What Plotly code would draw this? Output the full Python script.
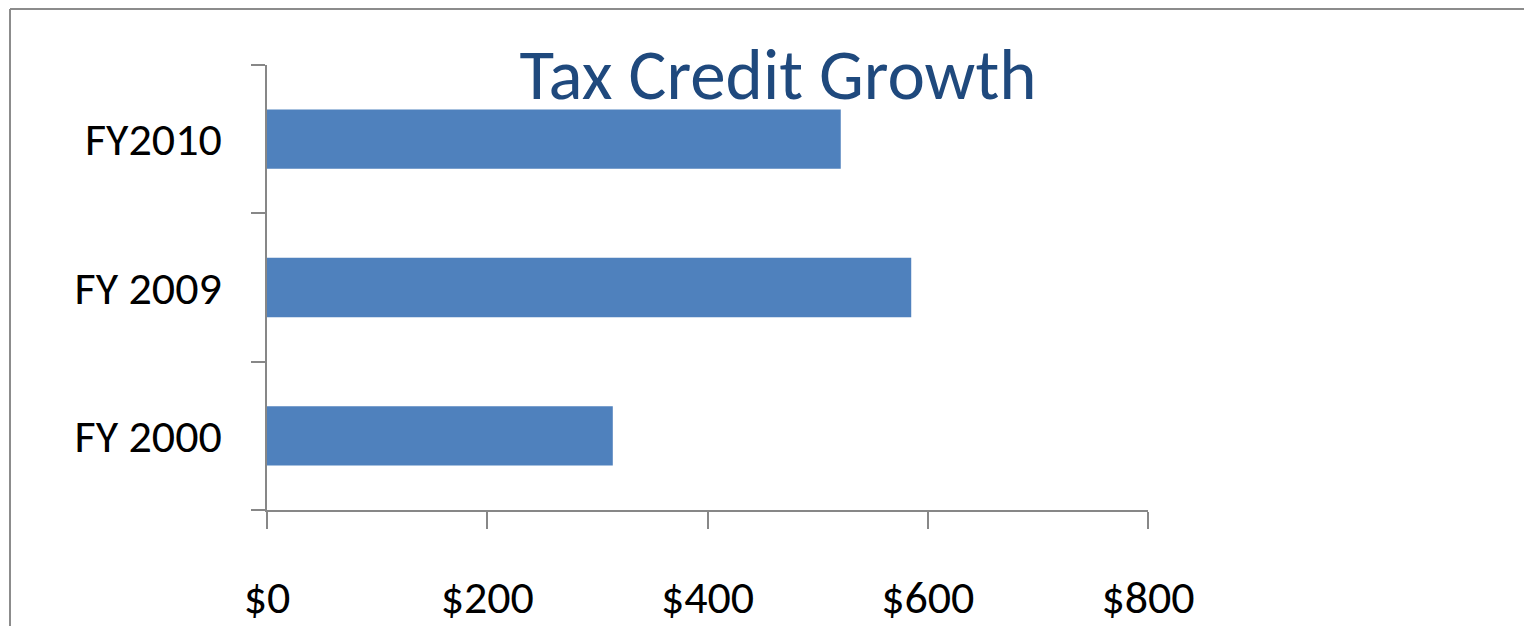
import plotly.graph_objects as go

categories = ["FY 2000", "FY 2009", "FY2010"]
values = [314, 585, 521]
x_ticks = [0, 200, 400, 600, 800]
x_tick_labels = ["$0", "$200", "$400", "$600", "$800"]

# page body has an 8px margin; compensate so the picture lines up
OFF = 8
W, H = 1532 - 2 * OFF, 634 - 2 * OFF
L = 267 - OFF
T = 65 - OFF
R = W - (1148 - OFF)
B = H - (510 - OFF)
pw, ph = W - L - R, H - T - B

def px(x):
    return (x - OFF - L) / pw

def py(y):
    return (H - B - (y - OFF)) / ph

font = "Carlito, Calibri, Lato, sans-serif"
axis_col = "#878787"

fig = go.Figure(go.Bar(
    x=values, y=categories, orientation="h",
    marker=dict(color="#4F81BD", line=dict(width=0)),
))

fig.update_layout(
    width=W, height=H,
    margin=dict(l=L, r=R, t=T, b=B, pad=0, autoexpand=False),
    paper_bgcolor="white", plot_bgcolor="white",
    bargap=0.6, showlegend=False,
    title=dict(text="Tax Credit Growth", x=(778 - OFF) / W, xanchor="center",
               y=1 - (74 - OFF) / H, yanchor="middle", yref="container",
               font=dict(family=font, size=71, color="#1F497D")),
    xaxis=dict(range=[0, 800], tickvals=x_ticks, ticktext=x_tick_labels,
               showgrid=False, zeroline=False, showline=True, automargin=False,
               linecolor=axis_col, linewidth=2, ticks="outside", ticklen=17,
               tickwidth=1.5, tickcolor=axis_col, ticklabelstandoff=29,
               tickfont=dict(family=font, size=46, color="black")),
    yaxis=dict(showgrid=False, zeroline=False, showline=True, automargin=False,
               linecolor=axis_col, linewidth=2, ticks="outside", ticklen=14,
               tickwidth=1.5, tickcolor=axis_col, tickson="boundaries",
               ticklabelstandoff=34,
               tickfont=dict(family=font, size=46, color="black")),
    shapes=[
        dict(type="line", xref="paper", yref="paper", x0=px(10), x1=px(10),
             y0=py(9), y1=py(700), line=dict(color="#8C8C8C", width=2)),
        dict(type="line", xref="paper", yref="paper", x0=px(10), x1=px(1600),
             y0=py(9), y1=py(9), line=dict(color="#8C8C8C", width=2)),
    ],
)

fig.write_html("out.html")
